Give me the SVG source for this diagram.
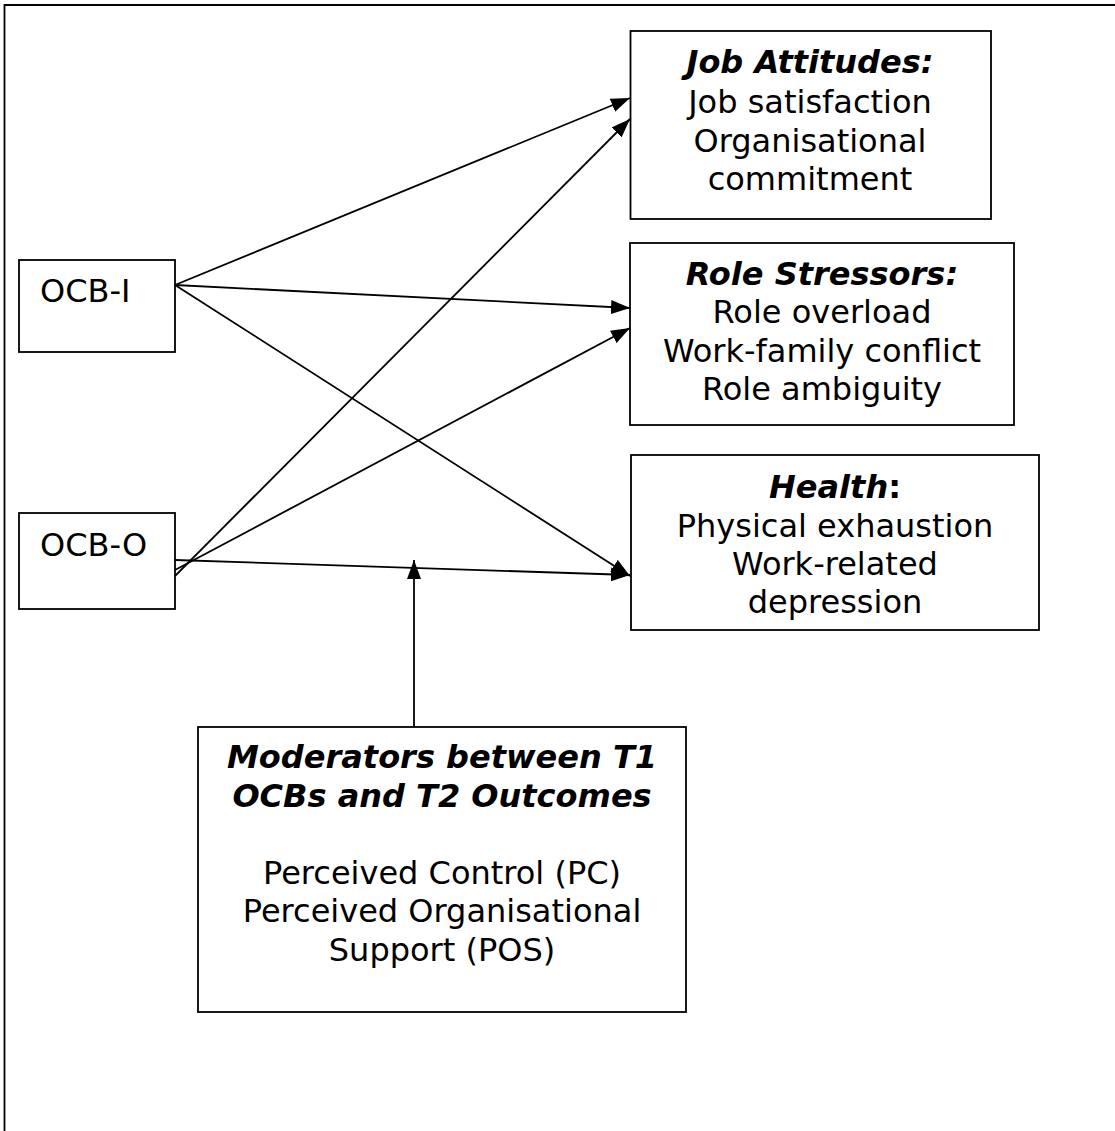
<svg xmlns="http://www.w3.org/2000/svg" width="1115" height="1131" viewBox="0 0 1115 1131">
<defs>
<style>
.box{fill:#fff;stroke:#000;stroke-width:1.8}
.frame{fill:none;stroke:#000;stroke-width:1.8}
.t{font-family:"DejaVu Sans",Verdana,sans-serif;font-size:32px;fill:#000}
.c{text-anchor:middle}
.h{font-weight:bold;font-style:italic}
.b{font-weight:bold}
.edge{fill:none;stroke:#000;stroke-width:1.8}
</style>
<marker id="arr" markerUnits="userSpaceOnUse" markerWidth="20" markerHeight="14" viewBox="0 0 20 14" refX="19" refY="7" orient="auto">
<path d="M0,0 L19,7 L0,14 Z" fill="#000"/>
</marker>
</defs>
<rect width="1115" height="1131" fill="#fff"/>
<path class="frame" d="M4.5,1131 L4.5,5 L1115,5"/>
<g id="job-attitudes">
<rect class="box" x="630.5" y="31" width="360.5" height="188"/>
<text class="t c" x="810" y="73"><tspan class="h">Job Attitudes:</tspan></text>
<text class="t c" x="810" y="113">Job satisfaction</text>
<text class="t c" x="810" y="152">Organisational</text>
<text class="t c" x="810" y="190">commitment</text>
</g>
<g id="role-stressors">
<rect class="box" x="630" y="243" width="384" height="182"/>
<text class="t c" x="822" y="285"><tspan class="h">Role Stressors:</tspan></text>
<text class="t c" x="822" y="323">Role overload</text>
<text class="t c" x="822" y="362">Work-family conflict</text>
<text class="t c" x="822" y="400">Role ambiguity</text>
</g>
<g id="health">
<rect class="box" x="631" y="455" width="408" height="175"/>
<text class="t c" x="835" y="498"><tspan class="h">Health</tspan><tspan class="b">:</tspan></text>
<text class="t c" x="835" y="537">Physical exhaustion</text>
<text class="t c" x="835" y="575">Work-related</text>
<text class="t c" x="835" y="613">depression</text>
</g>
<g id="ocb-i">
<rect class="box" x="19" y="260" width="156" height="92"/>
<text class="t" x="40" y="302">OCB-I</text>
</g>
<g id="ocb-o">
<rect class="box" x="19" y="513" width="156" height="96"/>
<text class="t" x="40" y="556">OCB-O</text>
</g>
<g id="moderators">
<rect class="box" x="198" y="727" width="488" height="285"/>
<text class="t c h" x="442" y="768">Moderators between T1</text>
<text class="t c h" x="442" y="807">OCBs and T2 Outcomes</text>
<text class="t c" x="442" y="884">Perceived Control (PC)</text>
<text class="t c" x="442" y="922">Perceived Organisational</text>
<text class="t c" x="442" y="961">Support (POS)</text>
</g>
<g id="connectors">
<line class="edge" x1="175" y1="285" x2="630" y2="98" marker-end="url(#arr)"/>
<line class="edge" x1="175" y1="285" x2="630" y2="308" marker-end="url(#arr)"/>
<line class="edge" x1="175" y1="285" x2="630" y2="576" marker-end="url(#arr)"/>
<line class="edge" x1="175" y1="576" x2="630" y2="119" marker-end="url(#arr)"/>
<line class="edge" x1="175" y1="570" x2="630" y2="328" marker-end="url(#arr)"/>
<line class="edge" x1="175" y1="560" x2="630" y2="575" marker-end="url(#arr)"/>
<line class="edge" x1="414" y1="727" x2="414" y2="560" marker-end="url(#arr)"/>
</g>
</svg>
